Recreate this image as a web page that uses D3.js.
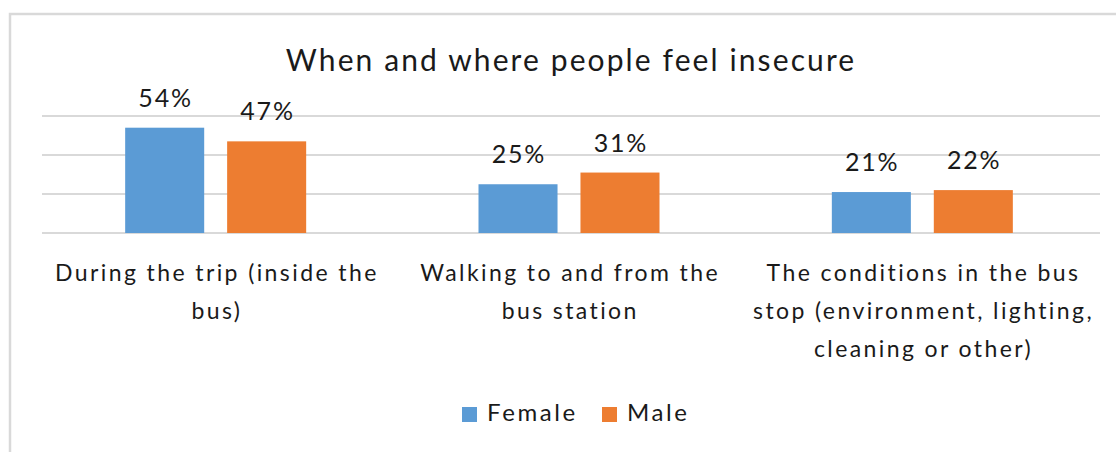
<!DOCTYPE html>
<html>
<head>
<meta charset="utf-8">
<script src="https://cdn.jsdelivr.net/npm/d3@7"></script>
<style>
  html, body { margin: 0; padding: 0; background: #fff; }
  svg { display: block; }
  text { font-family: Lato, "Open Sans", sans-serif; fill: #1a1a1a; }
</style>
</head>
<body>
<svg id="chart" width="1116" height="452"></svg>
<script>
// Share of respondents who feel insecure, by situation and gender (%)
const categories = [
  ["During the trip (inside the", "bus)"],
  ["Walking to and from the", "bus station"],
  ["The conditions in the bus", "stop (environment, lighting,", "cleaning or other)"]
];
const seriesNames = ["Female", "Male"];
const female = [54, 25, 21];
const male = [47, 31, 22];
const gridTicks = [0, 20, 40, 60];
const title = "When and where people feel insecure";

const colors = { Female: "#5B9BD5", Male: "#ED7D31" };
const values = { Female: female, Male: male };

const svg = d3.select("#chart");
const W = 1116, H = 452;

// chart frame (runs off the right and bottom edges)
svg.append("rect")
  .attr("x", 10).attr("y", 14)
  .attr("width", W + 20).attr("height", H + 20)
  .attr("fill", "#fff")
  .attr("stroke", "#d9d9d9").attr("stroke-width", 2.5);

const x0 = d3.scaleBand()
  .domain(d3.range(categories.length))
  .range([39, 1099])
  .padding(0);

const groupW = 181;
const x1 = d3.scaleBand()
  .domain(seriesNames)
  .range([x0.bandwidth() / 2 - groupW / 2, x0.bandwidth() / 2 + groupW / 2])
  .paddingInner(0.225)
  .paddingOuter(0);

const y = d3.scaleLinear().domain([0, 60]).range([233, 116]);

// horizontal gridlines
svg.append("g")
  .selectAll("line")
  .data(gridTicks)
  .join("line")
  .attr("x1", 42).attr("x2", 1100)
  .attr("y1", d => y(d)).attr("y2", d => y(d))
  .attr("stroke", "#d9d9d9").attr("stroke-width", 2);

// centred text helper: letter-spacing leaves a trailing gap, so shift by half of it
function spaced(sel, ls) {
  return sel.attr("letter-spacing", ls).attr("dx", ls / 2);
}

// title
spaced(svg.append("text")
  .attr("x", 570).attr("y", 71)
  .attr("text-anchor", "middle")
  .attr("font-size", 30)
  .text(title), 2.1);

// bars and value labels
const groups = svg.append("g")
  .selectAll("g")
  .data(categories.map((c, i) => i))
  .join("g")
  .attr("transform", i => `translate(${x0(i)},0)`);

groups.selectAll("rect")
  .data(i => seriesNames.map(s => ({ s, v: values[s][i] })))
  .join("rect")
  .attr("x", d => x1(d.s))
  .attr("width", x1.bandwidth())
  .attr("y", d => y(d.v))
  .attr("height", d => y(0) - y(d.v))
  .attr("fill", d => colors[d.s]);

spaced(groups.selectAll("text.val")
  .data(i => seriesNames.map(s => ({ s, v: values[s][i] })))
  .join("text")
  .attr("class", "val")
  .attr("x", d => x1(d.s) + x1.bandwidth() / 2)
  .attr("y", d => y(d.v) - 21)
  .attr("text-anchor", "middle")
  .attr("font-size", 25)
  .text(d => d.v + "%"), 1.8);

// category labels, wrapped as in the source layout
const lineH = 38;
const catText = groups.append("text")
  .attr("text-anchor", "middle")
  .attr("font-size", 23)
  .attr("letter-spacing", 2.4);
catText.selectAll("tspan")
  .data(i => categories[i])
  .join("tspan")
  .attr("x", x0.bandwidth() / 2 + 1.2)
  .attr("y", (d, k) => 281 + k * lineH)
  .text(d => d);

// legend
const legend = svg.append("g");
const legendItems = [
  { s: "Female", x: 462 },
  { s: "Male", x: 602 }
];
legendItems.forEach(it => {
  legend.append("rect")
    .attr("x", it.x).attr("y", 407)
    .attr("width", 15).attr("height", 15)
    .attr("fill", colors[it.s]);
  legend.append("text")
    .attr("x", it.x + 25).attr("y", 421)
    .attr("font-size", 24)
    .attr("letter-spacing", 2.6)
    .text(it.s);
});
</script>
</body>
</html>
